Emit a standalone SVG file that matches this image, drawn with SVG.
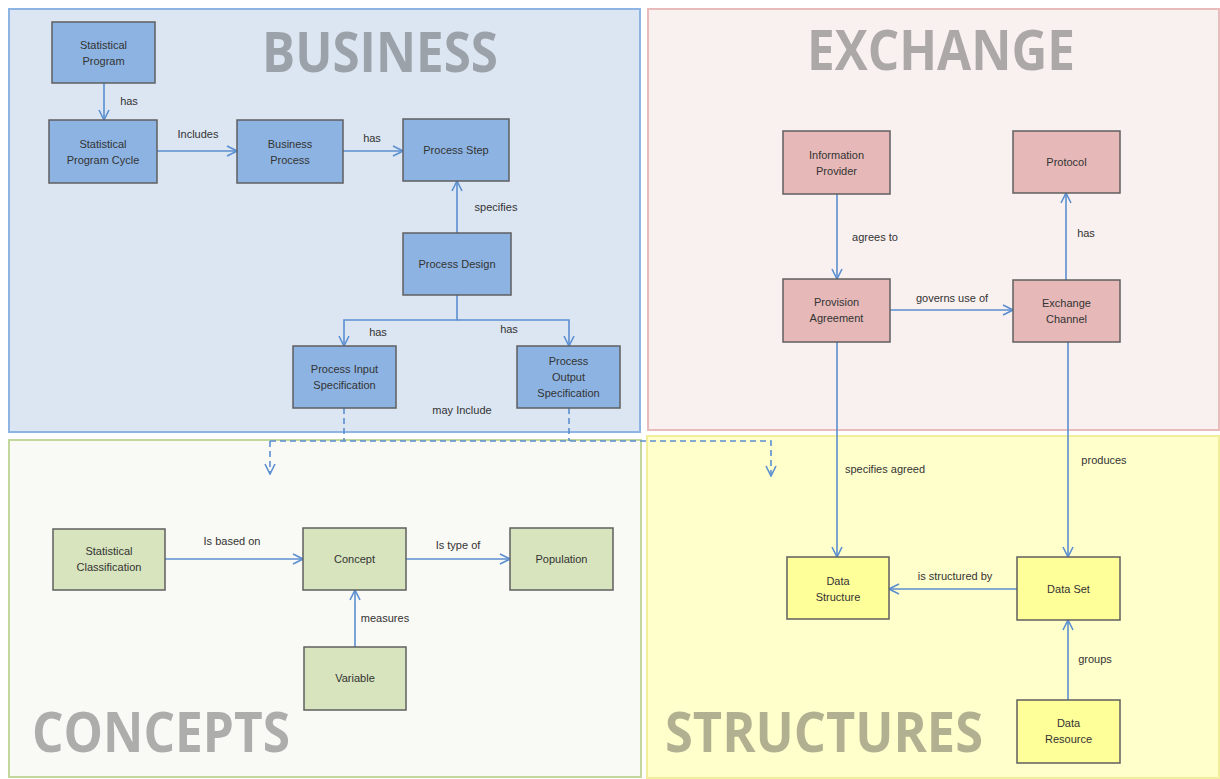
<svg xmlns="http://www.w3.org/2000/svg" width="1220" height="779" viewBox="0 0 1220 779">
<defs>
<style>
.panel{stroke-width:2}
.node{stroke:#5f5f5f;stroke-width:1.5}
.blue{fill:#8db3e2}
.pink{fill:#e6b9b8}
.green{fill:#d7e4bd}
.yellow{fill:#ffff99}
.nt{font-family:"Liberation Sans",Arial,sans-serif;font-size:11px;fill:#333;text-anchor:middle}
.lbl{font-family:"Liberation Sans",Arial,sans-serif;font-size:11px;fill:#333;text-anchor:middle}
.title{font-family:"Open Sans","Liberation Sans",sans-serif;font-weight:bold;font-size:56px;fill:#3c3c3c;fill-opacity:0.4}
.conn{fill:none;stroke:#5b8fd0;stroke-width:1.6}
.dash{stroke-dasharray:6,4}
</style>
<marker id="arr" viewBox="0 0 12 12" refX="11" refY="6" markerWidth="12" markerHeight="12" markerUnits="userSpaceOnUse" orient="auto">
<path d="M1,1 L11,6 L1,11" fill="none" stroke="#5b8fd0" stroke-width="1.6"/>
</marker>
</defs>
<rect width="1220" height="779" fill="#ffffff"/>
<g id="panels">
<rect class="panel" x="9" y="9" width="631" height="423" fill="#dce6f2" stroke="#8eb4e3"/>
<rect class="panel" x="648" y="9" width="571" height="421" fill="#f9f0f0" stroke="#e8bcbb"/>
<rect class="panel" x="9" y="440" width="632" height="337" fill="#f9f9f5" stroke="#c3d69b"/>
<rect class="panel" x="647" y="436" width="572" height="342" fill="#ffffcc" stroke="#f3ee9c"/>
<text class="title" x="262" y="72" textLength="236" lengthAdjust="spacingAndGlyphs">BUSINESS</text>
<text class="title" x="807" y="70" textLength="268" lengthAdjust="spacingAndGlyphs">EXCHANGE</text>
<text class="title" x="32" y="752" textLength="258" lengthAdjust="spacingAndGlyphs">CONCEPTS</text>
<text class="title" x="665" y="752" textLength="318" lengthAdjust="spacingAndGlyphs">STRUCTURES</text>
</g>
<g id="connectors">
<path class="conn" d="M104,83 V120" marker-end="url(#arr)"/>
<text class="lbl" x="129" y="105">has</text>
<path class="conn" d="M157,151 H237" marker-end="url(#arr)"/>
<text class="lbl" x="198" y="138">Includes</text>
<path class="conn" d="M343,151 H403" marker-end="url(#arr)"/>
<text class="lbl" x="372" y="142">has</text>
<path class="conn" d="M457,233 V181" marker-end="url(#arr)"/>
<text class="lbl" x="496" y="211">specifies</text>
<path class="conn" d="M457,295 V320 H344 V346" marker-end="url(#arr)"/>
<path class="conn" d="M457,320 H569 V346" marker-end="url(#arr)"/>
<text class="lbl" x="378" y="336">has</text>
<text class="lbl" x="509" y="333">has</text>
<text class="lbl" x="462" y="414">may Include</text>
<path class="conn dash" d="M344,408 V441"/>
<path class="conn dash" d="M569,408 V441"/>
<path class="conn dash" d="M270,441 V474" marker-end="url(#arr)"/>
<path class="conn dash" d="M270,441 H771 V476" marker-end="url(#arr)"/>
<path class="conn" d="M837,194 V279" marker-end="url(#arr)"/>
<text class="lbl" x="875" y="241">agrees to</text>
<path class="conn" d="M890,310 H1013" marker-end="url(#arr)"/>
<text class="lbl" x="952" y="302">governs use of</text>
<path class="conn" d="M1066,280 V193" marker-end="url(#arr)"/>
<text class="lbl" x="1086" y="237">has</text>
<path class="conn" d="M837,342 V557" marker-end="url(#arr)"/>
<text class="lbl" x="885" y="473">specifies agreed</text>
<path class="conn" d="M1068,342 V557" marker-end="url(#arr)"/>
<text class="lbl" x="1104" y="464">produces</text>
<path class="conn" d="M1017,589 H889" marker-end="url(#arr)"/>
<text class="lbl" x="955" y="580">is structured by</text>
<path class="conn" d="M1068,700 V620" marker-end="url(#arr)"/>
<text class="lbl" x="1095" y="663">groups</text>
<path class="conn" d="M165,559 H303" marker-end="url(#arr)"/>
<text class="lbl" x="232" y="545">Is based on</text>
<path class="conn" d="M406,559 H510" marker-end="url(#arr)"/>
<text class="lbl" x="458" y="549">Is type of</text>
<path class="conn" d="M355,647 V590" marker-end="url(#arr)"/>
<text class="lbl" x="385" y="622">measures</text>
</g>
<g id="statistical-program"><rect class="node blue" x="52" y="22" width="103" height="61"/><text class="nt" x="103.5" y="49">Statistical</text><text class="nt" x="103.5" y="65">Program</text></g>
<g id="statistical-program-cycle"><rect class="node blue" x="49" y="120" width="108" height="63"/><text class="nt" x="103" y="148">Statistical</text><text class="nt" x="103" y="164">Program Cycle</text></g>
<g id="business-process"><rect class="node blue" x="237" y="120" width="106" height="63"/><text class="nt" x="290" y="148">Business</text><text class="nt" x="290" y="164">Process</text></g>
<g id="process-step"><rect class="node blue" x="403" y="119" width="106" height="62"/><text class="nt" x="456" y="154">Process Step</text></g>
<g id="process-design"><rect class="node blue" x="403" y="233" width="108" height="62"/><text class="nt" x="457" y="268">Process Design</text></g>
<g id="process-input-specification"><rect class="node blue" x="293" y="346" width="103" height="62"/><text class="nt" x="344.5" y="373">Process Input</text><text class="nt" x="344.5" y="389">Specification</text></g>
<g id="process-output-specification"><rect class="node blue" x="517" y="346" width="103" height="62"/><text class="nt" x="568.5" y="365">Process</text><text class="nt" x="568.5" y="381">Output</text><text class="nt" x="568.5" y="397">Specification</text></g>
<g id="information-provider"><rect class="node pink" x="783" y="131" width="107" height="63"/><text class="nt" x="836.5" y="159">Information</text><text class="nt" x="836.5" y="175">Provider</text></g>
<g id="protocol"><rect class="node pink" x="1013" y="131" width="107" height="62"/><text class="nt" x="1066.5" y="166">Protocol</text></g>
<g id="provision-agreement"><rect class="node pink" x="783" y="279" width="107" height="63"/><text class="nt" x="836.5" y="306">Provision</text><text class="nt" x="836.5" y="322">Agreement</text></g>
<g id="exchange-channel"><rect class="node pink" x="1013" y="280" width="107" height="62"/><text class="nt" x="1066.5" y="307">Exchange</text><text class="nt" x="1066.5" y="323">Channel</text></g>
<g id="data-structure"><rect class="node yellow" x="787" y="557" width="102" height="62"/><text class="nt" x="838" y="585">Data</text><text class="nt" x="838" y="601">Structure</text></g>
<g id="data-set"><rect class="node yellow" x="1017" y="557" width="103" height="63"/><text class="nt" x="1068.5" y="593">Data Set</text></g>
<g id="data-resource"><rect class="node yellow" x="1017" y="700" width="103" height="63"/><text class="nt" x="1068.5" y="727">Data</text><text class="nt" x="1068.5" y="743">Resource</text></g>
<g id="statistical-classification"><rect class="node green" x="53" y="529" width="112" height="61"/><text class="nt" x="109" y="555">Statistical</text><text class="nt" x="109" y="571">Classification</text></g>
<g id="concept"><rect class="node green" x="303" y="528" width="103" height="62"/><text class="nt" x="354.5" y="563">Concept</text></g>
<g id="population"><rect class="node green" x="510" y="528" width="103" height="62"/><text class="nt" x="561.5" y="563">Population</text></g>
<g id="variable"><rect class="node green" x="304" y="647" width="102" height="63"/><text class="nt" x="355" y="682">Variable</text></g>
</svg>
